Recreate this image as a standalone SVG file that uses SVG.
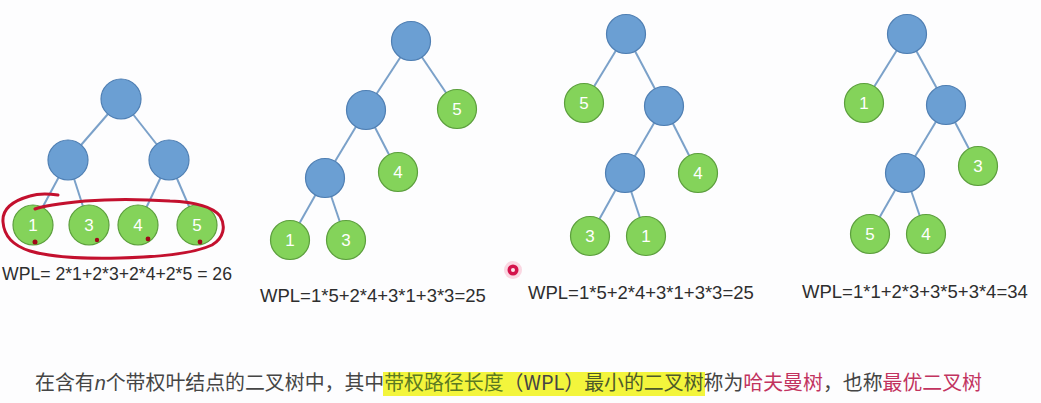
<svg xmlns="http://www.w3.org/2000/svg" width="1041" height="403" viewBox="0 0 1041 403">
<defs>
<style>
.bg{fill:#fdfdfe}
.e{stroke:#7ba1c9;stroke-width:2;fill:none}
.in{fill:#6b9fd3;stroke:#4f7fb3;stroke-width:1.2}
.lf{fill:#84d35a;stroke:#5c9f3d;stroke-width:1.2}
.lb{font-family:"Liberation Sans",Arial,sans-serif;font-size:17px;fill:#ffffff;text-anchor:middle;dominant-baseline:central}
.wpl{font-family:"Liberation Sans",Arial,sans-serif;font-size:18.5px;fill:#2e2e2e}
.cap{font-family:"Noto Sans CJK SC","Noto Sans",sans-serif;font-size:19.9px;fill:#454545}
.ink{stroke:#c3102e;stroke-width:3;fill:none;stroke-linecap:round;stroke-linejoin:round}
.dot{fill:#a00818}
</style>
</defs>
<rect class="bg" x="0" y="0" width="1041" height="403"/>

<g id="connectors">
<line class="e" x1="121" y1="99" x2="68" y2="160"/>
<line class="e" x1="121" y1="99" x2="169" y2="160"/>
<line class="e" x1="68" y1="160" x2="33" y2="225"/>
<line class="e" x1="68" y1="160" x2="89" y2="225"/>
<line class="e" x1="169" y1="160" x2="138" y2="225"/>
<line class="e" x1="169" y1="160" x2="197" y2="225"/>

<line class="e" x1="411" y1="41" x2="366" y2="110"/>
<line class="e" x1="411" y1="41" x2="457" y2="109"/>
<line class="e" x1="366" y1="110" x2="325" y2="178"/>
<line class="e" x1="366" y1="110" x2="398" y2="172"/>
<line class="e" x1="325" y1="178" x2="290" y2="240"/>
<line class="e" x1="325" y1="178" x2="346" y2="240"/>

<line class="e" x1="626" y1="34" x2="584" y2="103"/>
<line class="e" x1="626" y1="34" x2="664" y2="106"/>
<line class="e" x1="664" y1="106" x2="625" y2="173"/>
<line class="e" x1="664" y1="106" x2="698" y2="173"/>
<line class="e" x1="625" y1="173" x2="590" y2="236"/>
<line class="e" x1="625" y1="173" x2="646" y2="236"/>

<line class="e" x1="907" y1="34" x2="864" y2="103"/>
<line class="e" x1="907" y1="34" x2="946" y2="105"/>
<line class="e" x1="946" y1="105" x2="905" y2="173"/>
<line class="e" x1="946" y1="105" x2="978" y2="166"/>
<line class="e" x1="905" y1="173" x2="870" y2="234"/>
<line class="e" x1="905" y1="173" x2="926" y2="234"/>
</g>

<!-- Tree 1 -->
<g id="t1-root"><circle class="in" cx="121" cy="99" r="20"/></g>
<g id="t1-n1"><circle class="in" cx="68" cy="160" r="20"/></g>
<g id="t1-n2"><circle class="in" cx="169" cy="160" r="20"/></g>
<g id="t1-leaf1"><circle class="lf" cx="33" cy="225" r="20"/><text class="lb" x="33" y="225">1</text></g>
<g id="t1-leaf3"><circle class="lf" cx="89" cy="225" r="20"/><text class="lb" x="89" y="225">3</text></g>
<g id="t1-leaf4"><circle class="lf" cx="138" cy="225" r="20"/><text class="lb" x="138" y="225">4</text></g>
<g id="t1-leaf5"><circle class="lf" cx="197" cy="225" r="20"/><text class="lb" x="197" y="225">5</text></g>
<text class="wpl" x="2" y="280" textLength="230" lengthAdjust="spacingAndGlyphs">WPL= 2*1+2*3+2*4+2*5 = 26</text>

<!-- Tree 2 -->
<g id="t2-root"><circle class="in" cx="411" cy="41" r="19.5"/></g>
<g id="t2-n1"><circle class="in" cx="366" cy="110" r="19.5"/></g>
<g id="t2-leaf5"><circle class="lf" cx="457" cy="109" r="19.5"/><text class="lb" x="457" y="109">5</text></g>
<g id="t2-n2"><circle class="in" cx="325" cy="178" r="19.5"/></g>
<g id="t2-leaf4"><circle class="lf" cx="398" cy="172" r="19.5"/><text class="lb" x="398" y="172">4</text></g>
<g id="t2-leaf1"><circle class="lf" cx="290" cy="240" r="19.5"/><text class="lb" x="290" y="240">1</text></g>
<g id="t2-leaf3"><circle class="lf" cx="346" cy="240" r="19.5"/><text class="lb" x="346" y="240">3</text></g>
<text class="wpl" x="260" y="302">WPL=1*5+2*4+3*1+3*3=25</text>

<!-- Tree 3 -->
<g id="t3-root"><circle class="in" cx="626" cy="34" r="19.5"/></g>
<g id="t3-leaf5"><circle class="lf" cx="584" cy="103" r="19.5"/><text class="lb" x="584" y="103">5</text></g>
<g id="t3-n1"><circle class="in" cx="664" cy="106" r="19.5"/></g>
<g id="t3-n2"><circle class="in" cx="625" cy="173" r="19.5"/></g>
<g id="t3-leaf4"><circle class="lf" cx="698" cy="173" r="19.5"/><text class="lb" x="698" y="173">4</text></g>
<g id="t3-leaf3"><circle class="lf" cx="590" cy="236" r="19.5"/><text class="lb" x="590" y="236">3</text></g>
<g id="t3-leaf1"><circle class="lf" cx="646" cy="236" r="19.5"/><text class="lb" x="646" y="236">1</text></g>
<text class="wpl" x="528" y="299">WPL=1*5+2*4+3*1+3*3=25</text>

<!-- Tree 4 -->
<g id="t4-root"><circle class="in" cx="907" cy="34" r="19.5"/></g>
<g id="t4-leaf1"><circle class="lf" cx="864" cy="103" r="19.5"/><text class="lb" x="864" y="103">1</text></g>
<g id="t4-n1"><circle class="in" cx="946" cy="105" r="19.5"/></g>
<g id="t4-n2"><circle class="in" cx="905" cy="173" r="19.5"/></g>
<g id="t4-leaf3"><circle class="lf" cx="978" cy="166" r="19.5"/><text class="lb" x="978" y="166">3</text></g>
<g id="t4-leaf5"><circle class="lf" cx="870" cy="234" r="19.5"/><text class="lb" x="870" y="234">5</text></g>
<g id="t4-leaf4"><circle class="lf" cx="926" cy="234" r="19.5"/><text class="lb" x="926" y="234">4</text></g>
<text class="wpl" x="802" y="298">WPL=1*1+2*3+3*5+3*4=34</text>

<!-- hand-drawn annotation -->
<g id="annotation">
<path class="ink" d="M58,195 C45,193 36,194 30,196 C12,201 2,210 3,222 C4,236 14,246 30,251 C50,257 80,259 120,258 C160,257 195,253 212,245 C224,238 226,226 220,216 C212,206 195,202 170,201 C140,199 110,199 85,201 C65,203 45,205 35,209"/>
<circle class="dot" cx="35" cy="242" r="2.5"/>
<circle class="dot" cx="97" cy="240" r="2.2"/>
<circle class="dot" cx="148" cy="239" r="2.4"/>
<circle class="dot" cx="200" cy="242" r="2.4"/>
</g>

<g id="pointer">
<circle cx="513" cy="270" r="9" fill="#f7a8c0" opacity="0.45"/>
<circle cx="513" cy="270" r="5.5" fill="#d4134c"/>
<circle cx="513" cy="270" r="2" fill="#fbe3ea"/>
</g>

<!-- caption -->
<rect x="383" y="372" width="322" height="24" fill="#f3f53c"/>
<text class="cap" x="35" y="390">在含有<tspan font-style="italic" font-family="'Liberation Sans',sans-serif">n</tspan>个带权叶结点的二叉树中，其中<tspan fill="#5b7a22">带权路径长度</tspan>（WPL）<tspan fill="#4d5a2a">最小的二叉树</tspan>称为<tspan fill="#c2335f">哈夫曼树</tspan>，也称<tspan fill="#c2335f">最优二叉树</tspan></text>
</svg>
